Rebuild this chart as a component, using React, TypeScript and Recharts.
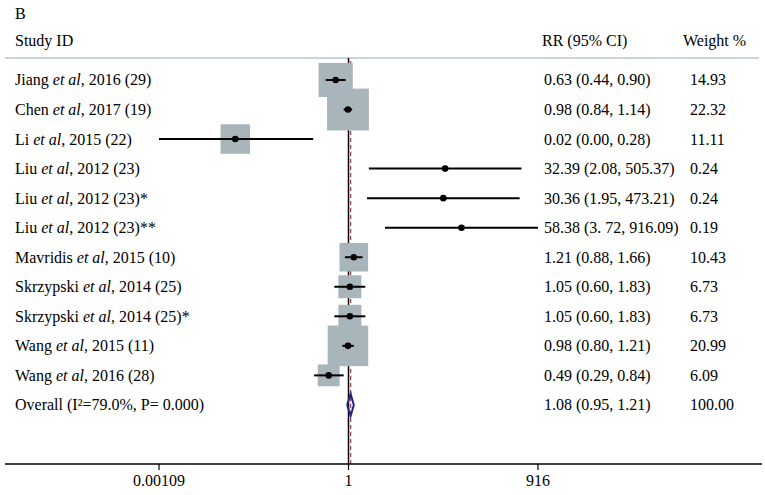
import React from "react"
import {
  ComposedChart,
  Scatter,
  XAxis,
  YAxis,
  ReferenceLine,
} from "recharts"

// ─── Data ────────────────────────────────────────────────────────────────────

const studyAuthors = ["Jiang", "Chen", "Li", "Liu", "Liu", "Liu", "Mavridis", "Skrzypski", "Skrzypski", "Wang", "Wang"]
const studyTails = [
  ", 2016 (29)", ", 2017 (19)", ", 2015 (22)", ", 2012 (23)", ", 2012 (23)*", ", 2012 (23)**",
  ", 2015 (10)", ", 2014 (25)", ", 2014 (25)*", ", 2015 (11)", ", 2016 (28)",
]
const rrEstimate = [0.63, 0.98, 0.017, 32.39, 30.36, 58.38, 1.21, 1.05, 1.05, 0.98, 0.49]
const ciLower = [0.44, 0.84, 0.00109, 2.08, 1.95, 3.72, 0.88, 0.6, 0.6, 0.8, 0.29]
const ciUpper = [0.9, 1.14, 0.28, 505.37, 473.21, 916.09, 1.66, 1.83, 1.83, 1.21, 0.84]
const weights = [14.93, 22.32, 11.11, 0.24, 0.24, 0.19, 10.43, 6.73, 6.73, 20.99, 6.09]
const rrLabels = [
  "0.63 (0.44, 0.90)", "0.98 (0.84, 1.14)", "0.02 (0.00, 0.28)", "32.39 (2.08, 505.37)",
  "30.36 (1.95, 473.21)", "58.38 (3. 72, 916.09)", "1.21 (0.88, 1.66)", "1.05 (0.60, 1.83)",
  "1.05 (0.60, 1.83)", "0.98 (0.80, 1.21)", "0.49 (0.29, 0.84)",
]
const weightLabels = ["14.93", "22.32", "11.11", "0.24", "0.24", "0.19", "10.43", "6.73", "6.73", "20.99", "6.09"]

const overallLabel = "Overall (I\u00B2=79.0%, P= 0.000)"
const overallEstimate = 1.08
const overallLower = 0.95
const overallUpper = 1.21
const overallRRLabel = "1.08 (0.95, 1.21)"
const overallWeightLabel = "100.00"

const tickValues = [0.00109, 1, 916]
const tickLabels = ["0.00109", "1", "916"]

// ─── Layout ──────────────────────────────────────────────────────────────────

const W = 765
const H = 495
const FONT = "'Liberation Serif', 'Times New Roman', serif"
const BOX = "#a8b5ba"
const DIAMOND = "#25257d"
const DASH = "#9c4a60"

const lg = (v: number) => Math.log10(v)

const studyRows = studyAuthors.map((a, i) => ({
  x: lg(rrEstimate[i]),
  y: i,
  w: weights[i],
  author: a,
  tail: studyTails[i],
  rr: rrLabels[i],
  wt: weightLabels[i],
}))

// one two-point segment per study for the confidence interval
const ciSegments = studyAuthors.map((_, i) => [
  { x: lg(ciLower[i]), y: i },
  { x: lg(ciUpper[i]), y: i },
])

const overallRow = studyAuthors.length
const labelRows = [
  ...studyRows,
  { x: lg(overallEstimate), y: overallRow, author: "", tail: overallLabel, rr: overallRRLabel, wt: overallWeightLabel },
]

const diamondHalf = 0.37
const diamondPts = [
  { x: lg(overallLower), y: overallRow },
  { x: lg(overallEstimate), y: overallRow - diamondHalf },
  { x: lg(overallUpper), y: overallRow },
  { x: lg(overallEstimate), y: overallRow + diamondHalf },
  { x: lg(overallLower), y: overallRow },
]

function BoxShape(props: any) {
  const { cx, cy, payload } = props
  const s = 8.85 * Math.sqrt(payload.w)
  return <rect x={cx - s / 2} y={cy - s / 2} width={s} height={s} fill={BOX} />
}

function DotShape(props: any) {
  const { cx, cy } = props
  return <circle cx={cx} cy={cy} r={3.3} fill="#000" />
}

const NoShape = () => <g />

function LabelShape(props: any) {
  const { cy, payload } = props
  const base = cy + 5.5
  return (
    <g fontFamily={FONT} fontSize={16} fill="#000">
      <text x={15} y={base}>
        {payload.author && <tspan>{payload.author} </tspan>}
        {payload.author && <tspan fontStyle="italic">et al</tspan>}
        <tspan>{payload.tail}</tspan>
      </text>
      <text x={544} y={base}>{payload.rr}</text>
      <text x={690} y={base}>{payload.wt}</text>
    </g>
  )
}

export default function App() {
  return (
    <div style={{ position: "absolute", left: 0, top: 0, width: W, height: H, background: "#fff" }}>
      <svg width={W} height={H} style={{ position: "absolute", left: 0, top: 0 }}>
        <g fontFamily={FONT} fontSize={16} fill="#000">
          <text x={15} y={18.5}>B</text>
          <text x={15} y={45.5}>Study ID</text>
          <text x={542} y={45.5}>RR (95% CI)</text>
          <text x={683} y={45.5}>Weight %</text>
        </g>
        <line x1={5} x2={759} y1={58} y2={58} stroke="#b9c5c9" strokeWidth={1.5} />
      </svg>
      <div style={{ position: "absolute", left: 0, top: 0 }}>
        <ComposedChart width={W} height={H} margin={{ top: 58, right: 3, bottom: 0, left: 5 }}>
          <XAxis
            type="number"
            dataKey="x"
            domain={[-5.37, 6.464]}
            allowDataOverflow
            ticks={tickValues.map(lg)}
            tickFormatter={(v: number) => tickLabels[tickValues.findIndex((t) => Math.abs(lg(t) - v) < 1e-6)] ?? ""}
            height={31}
            tickSize={6}
            tickMargin={5}
            axisLine={{ stroke: "#000", strokeWidth: 1.5 }}
            tickLine={{ stroke: "#000", strokeWidth: 1.2 }}
            tick={{ fontSize: 16, fontFamily: FONT, fill: "#000" }}
          />
          <YAxis type="number" dataKey="y" domain={[-0.744, 13]} reversed hide allowDataOverflow />
          <ReferenceLine x={0} stroke="#000" strokeWidth={1.5} />
          <ReferenceLine x={lg(overallEstimate)} stroke={DASH} strokeWidth={1.3} strokeDasharray="4 3" />
          <Scatter data={studyRows} shape={<BoxShape />} isAnimationActive={false} />
          {ciSegments.map((seg, i) => (
            <Scatter
              key={`ci-${i}`}
              data={seg}
              line={{ stroke: "#000", strokeWidth: 2 }}
              shape={NoShape}
              isAnimationActive={false}
            />
          ))}
          <Scatter data={studyRows} shape={<DotShape />} isAnimationActive={false} />
          <Scatter
            data={diamondPts}
            line={{ stroke: DIAMOND, strokeWidth: 2 }}
            shape={NoShape}
            isAnimationActive={false}
          />
          <Scatter data={labelRows} shape={<LabelShape />} isAnimationActive={false} />
        </ComposedChart>
      </div>
    </div>
  )
}
